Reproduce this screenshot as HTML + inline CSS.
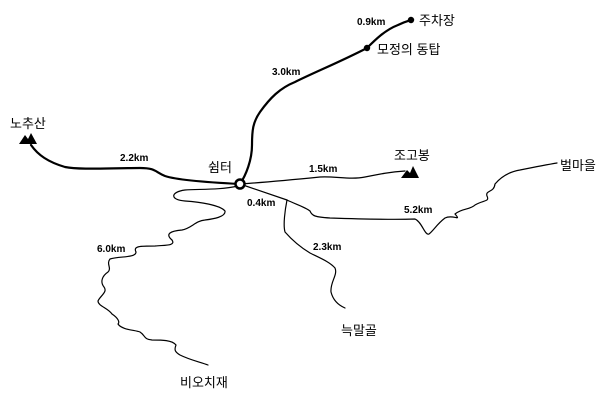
<!DOCTYPE html>
<html><head><meta charset="utf-8"><style>
body{margin:0;background:#fff}
svg text{font-family:"Liberation Sans","Noto Sans CJK KR",sans-serif}
.k{font-size:10px;font-weight:bold}
.n{font-size:13px}
</style></head><body>
<svg width="600" height="400" viewBox="0 0 600 400" xmlns="http://www.w3.org/2000/svg">
<g fill="none" stroke="#000" stroke-linejoin="round" stroke-linecap="round">
<path stroke-width="2.2" d="M240,184 C220,183 180,181 165,176 C155,172 156,168 140,168 C110,168 80,170 65,167 C48,162 38,155 31,145"/>
<path stroke-width="2.2" d="M240,184 C246,175 252,160 252,145 C252,130 253,122 260,112 C270,98 280,88 295,82 C315,72 340,62 367,48 C375,40 385,30 398,25 C404,22 408,21 411,20"/>
<path stroke-width="1.2" d="M240,184 C270,182 300,179 320,177 C335,176 350,180 365,177 C380,174 390,172 405,171"/>
<path stroke-width="1.2" d="M240,184 L287,200 C295,204 305,207 310,211 C312,216 315,217 330,218 C360,219 390,220 415,219 C422,222 425,236 429,234 C434,230 437,224 445,218 C453,214 462,222 455,214 C462,208 470,210 475,205 C483,200 490,202 487,196 C485,190 494,193 495,184 C500,178 508,172 520,170 C535,167 545,165 557,163"/>
<path stroke-width="1.2" d="M287,200 C285,210 283,225 285,232 C292,240 300,247 310,253 C320,258 330,262 335,268 C338,275 330,282 331,292 C333,300 338,305 345,308"/>
<path stroke-width="1.2" d="M238,186 C220,190 200,189 185,190 C170,192 170,200 185,201 C200,202 220,205 225,211 C226,217 213,219 205,220 C195,221 192,228 182,230 C170,231 165,234 172,240 C176,246 165,245 155,246 C140,246 133,246 136,252 C136,258 120,256 110,259 C106,264 112,268 108,272 C102,276 100,282 104,287 C108,292 100,296 98,301 C98,306 108,308 112,314 C118,318 120,322 118,324 C122,330 135,330 140,332 C146,336 143,339 152,340 C162,340 172,340 176,345 C174,350 175,352 180,355 C190,360 200,362 208,365"/>
</g>
<circle cx="240" cy="184" r="4.5" fill="#fff" stroke="#000" stroke-width="2.5"/>
<circle cx="367" cy="48" r="3.2" fill="#000"/>
<circle cx="411" cy="20" r="3.2" fill="#000"/>
<path d="M19,144 L25,135 L28,139 L31,133 L37,144 Z" fill="#000"/>
<path d="M401,178 L407,170 L410,173 L413,166 L419,178 Z" fill="#000"/>
<text class="n" x="10" y="128">노추산</text>
<text class="n" x="208" y="172">쉼터</text>
<text class="n" x="394" y="160">조고봉</text>
<text class="n" x="560" y="170">벌마을</text>
<text class="n" x="419" y="25">주차장</text>
<text class="n" x="377" y="54">모정의 동탑</text>
<text class="n" x="341" y="335">늑말골</text>
<text class="n" x="180" y="387">비오치재</text>
<text class="k" x="120" y="161">2.2km</text>
<text class="k" x="272" y="75">3.0km</text>
<text class="k" x="357" y="25">0.9km</text>
<text class="k" x="309" y="172">1.5km</text>
<text class="k" x="247" y="206">0.4km</text>
<text class="k" x="404" y="213">5.2km</text>
<text class="k" x="313" y="250">2.3km</text>
<text class="k" x="97" y="252">6.0km</text>
</svg>
</body></html>
